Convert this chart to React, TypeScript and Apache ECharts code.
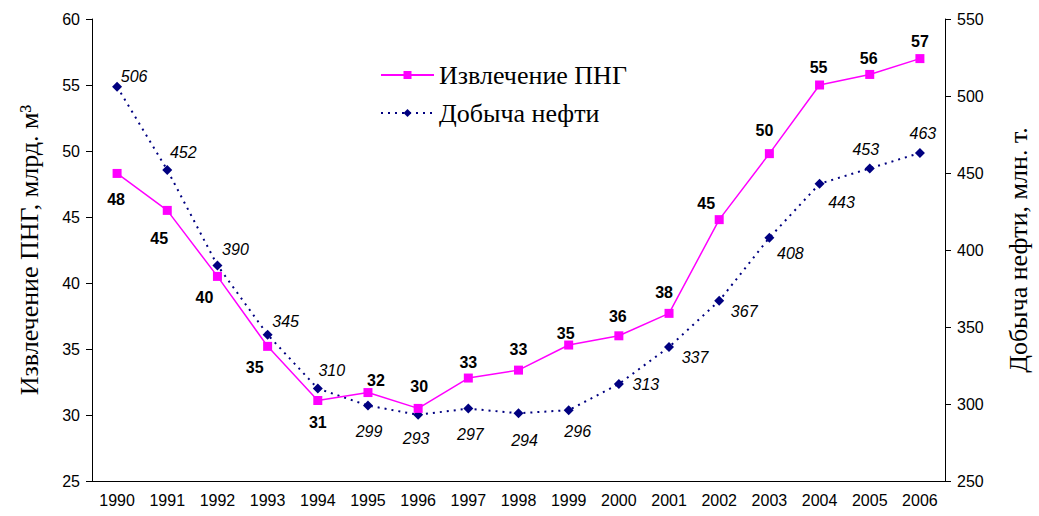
import React, { useEffect, useRef } from "react";
import * as echarts from "echarts";

const years = ["1990","1991","1992","1993","1994","1995","1996","1997","1998","1999","2000","2001","2002","2003","2004","2005","2006"];
const pngValues = [48.3, 45.5, 40.5, 35.2, 31.1, 31.7, 30.5, 32.8, 33.4, 35.3, 36.0, 37.7, 44.8, 49.8, 55.0, 55.8, 57.0];
const pngLabels = ["48","45","40","35","31","32","30","33","33","35","36","38","45","50","55","56","57"];
const oilValues = [506, 452, 390, 345, 310, 299, 293, 297, 294, 296, 313, 337, 367, 408, 443, 453, 463];

const pngLabelOffsets = [[-1,26],[-8,28],[-13,21],[-13,21],[0,22],[8,-12],[1,-22],[0,-16],[0,-21],[-3,-12],[-1,-19],[-5,-21],[-13,-16],[-5,-23],[-1,-18],[-1,-16],[0,-17]];
const oilLabelOffsets = [[17,-10],[16,-17],[18,-16],[18,-13],[14,-18],[1,26],[-2,24],[2,26],[6,27],[9,21],[27,1],[26,10],[25,11],[21,16],[22,19],[-4,-19],[3,-19]];

export default function App() {
  const ref = useRef<HTMLDivElement>(null);
  useEffect(() => {
    const chart = echarts.init(ref.current!, null, { renderer: "svg" });
    const sans = "Liberation Sans, Arial, sans-serif";
    const serif = "Liberation Serif, Times New Roman, serif";
    chart.setOption({
      animation: false,
      backgroundColor: "#fff",
      grid: { left: 92, right: 89, top: 19, bottom: 35 },
      legend: {
        orient: "vertical",
        left: 375,
        top: 57,
        itemWidth: 53,
        itemHeight: 10,
        itemGap: 12,
        textStyle: { fontFamily: serif, fontSize: 26, color: "#000" },
        data: ["Извлечение ПНГ", "Добыча нефти"],
      },
      xAxis: {
        type: "category",
        data: years,
        boundaryGap: true,
        axisLine: { lineStyle: { color: "#000", width: 1 } },
        axisTick: { length: 5, lineStyle: { color: "#000" } },
        axisLabel: { fontFamily: sans, fontSize: 16, color: "#000", margin: 11 },
      },
      yAxis: [
        {
          type: "value",
          min: 25,
          max: 60,
          interval: 5,
          position: "left",
          name: "Извлечение ПНГ, млрд. м³",
          nameLocation: "middle",
          nameRotate: 90,
          nameGap: 50,
          nameTextStyle: { fontFamily: serif, fontSize: 26, color: "#000" },
          splitLine: { show: false },
          axisLine: { show: true, lineStyle: { color: "#000" } },
          axisTick: { show: true, length: 6, lineStyle: { color: "#000" } },
          axisLabel: { fontFamily: sans, fontSize: 16, color: "#000", margin: 12 },
        },
        {
          type: "value",
          min: 250,
          max: 550,
          interval: 50,
          position: "right",
          name: "Добыча нефти, млн. т.",
          nameLocation: "middle",
          nameRotate: 90,
          nameGap: 60,
          nameTextStyle: { fontFamily: serif, fontSize: 26, color: "#000" },
          splitLine: { show: false },
          axisLine: { show: true, lineStyle: { color: "#000" } },
          axisTick: { show: true, length: 6, lineStyle: { color: "#000" } },
          axisLabel: { fontFamily: sans, fontSize: 16, color: "#000", margin: 12 },
        },
      ],
      series: [
        {
          name: "Извлечение ПНГ",
          type: "line",
          yAxisIndex: 0,
          symbol: "rect",
          symbolSize: 9,
          itemStyle: { color: "#FF00FF" },
          lineStyle: { color: "#FF00FF", width: 1.5 },
          data: pngValues.map((v, i) => ({
            value: v,
            label: {
              show: true,
              position: "inside",
              offset: pngLabelOffsets[i],
              formatter: pngLabels[i],
              fontFamily: sans,
              fontSize: 16,
              fontWeight: "bold",
              color: "#000",
            },
          })),
          z: 3,
        },
        {
          name: "Добыча нефти",
          type: "line",
          yAxisIndex: 1,
          symbol: "diamond",
          symbolSize: 10,
          itemStyle: { color: "#000080" },
          lineStyle: { color: "#000080", width: 2, type: [2, 5] },
          data: oilValues.map((v, i) => ({
            value: v,
            label: {
              show: true,
              position: "inside",
              offset: oilLabelOffsets[i],
              fontFamily: sans,
              fontSize: 16,
              fontStyle: "italic",
              color: "#000",
            },
          })),
          z: 2,
        },
      ],
    });
    return () => chart.dispose();
  }, []);
  return <div ref={ref} style={{ position: "absolute", left: 0, top: 0, width: 1039, height: 516 }} />;
}
